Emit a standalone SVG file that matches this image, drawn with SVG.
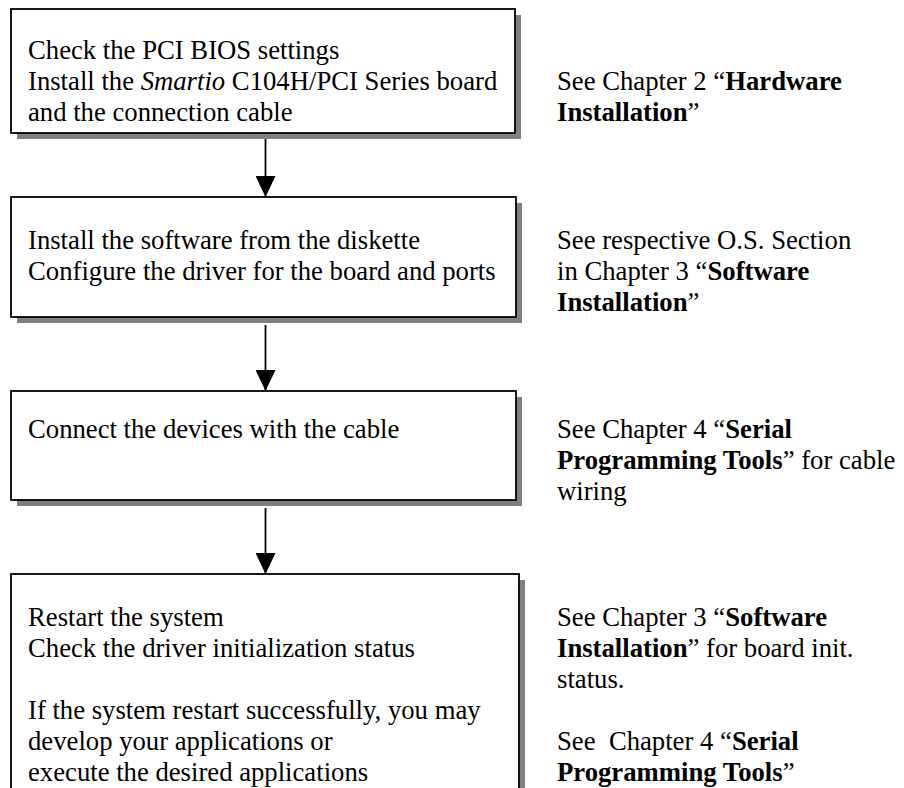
<svg xmlns="http://www.w3.org/2000/svg" width="904" height="788" viewBox="0 0 904 788">
<style>
.box{fill:#fff;stroke:#000;stroke-width:1.8}
.sh{fill:#808080}
.t{font-family:"Liberation Serif","Times New Roman",serif;font-size:26.7px;fill:#000;white-space:pre}
.b{font-weight:bold}
.i{font-style:italic}
.c{stroke:#000;stroke-width:1.8;fill:none}
</style>
<defs>
<marker id="ah" viewBox="0 0 21 20" refX="21" refY="10" markerWidth="21" markerHeight="20" markerUnits="userSpaceOnUse" orient="auto">
<path d="M0,0 L21,10 L0,20 z" fill="#000"/>
</marker>
</defs>
<rect width="904" height="788" fill="#fff"/>
<g id="connectors">
<line class="c" x1="265.5" y1="133" x2="265.5" y2="197" marker-end="url(#ah)"/>
<line class="c" x1="265.5" y1="325" x2="265.5" y2="391" marker-end="url(#ah)"/>
<line class="c" x1="265.5" y1="508" x2="265.5" y2="574" marker-end="url(#ah)"/>
</g>
<g id="node1">
<rect class="sh" x="17" y="15" width="504" height="124"/>
<rect class="box" x="11" y="9" width="504" height="124"/>
<text class="t" x="28" y="59">Check the PCI BIOS settings</text>
<text class="t" x="28" y="90">Install the <tspan class="i">Smartio</tspan> C104H/PCI Series board</text>
<text class="t" x="28" y="121">and the connection cable</text>
</g>
<g id="note1">
<text class="t" x="557" y="90">See Chapter 2 “<tspan class="b">Hardware</tspan></text>
<text class="t" x="557" y="121"><tspan class="b">Installation</tspan>”</text>
</g>
<g id="node2">
<rect class="sh" x="17" y="203" width="505" height="120"/>
<rect class="box" x="11" y="197" width="505" height="120"/>
<text class="t" x="28" y="249">Install the software from the diskette</text>
<text class="t" x="28" y="280">Configure the driver for the board and ports</text>
</g>
<g id="note2">
<text class="t" x="557" y="249">See respective O.S. Section</text>
<text class="t" x="557" y="280">in Chapter 3 “<tspan class="b">Software</tspan></text>
<text class="t" x="557" y="311"><tspan class="b">Installation</tspan>”</text>
</g>
<g id="node3">
<rect class="sh" x="17" y="397" width="505" height="109"/>
<rect class="box" x="11" y="391" width="505" height="109"/>
<text class="t" x="28" y="438">Connect the devices with the cable</text>
</g>
<g id="note3">
<text class="t" x="557" y="438">See Chapter 4 “<tspan class="b">Serial</tspan></text>
<text class="t" x="557" y="469"><tspan class="b">Programming Tools</tspan>” for cable</text>
<text class="t" x="557" y="500">wiring</text>
</g>
<g id="node4">
<rect class="sh" x="17" y="580" width="508" height="240"/>
<rect class="box" x="11" y="574" width="508" height="240"/>
<text class="t" x="28" y="626">Restart the system</text>
<text class="t" x="28" y="657">Check the driver initialization status</text>
<text class="t" x="28" y="719">If the system restart successfully, you may</text>
<text class="t" x="28" y="750">develop your applications or</text>
<text class="t" x="28" y="781">execute the desired applications</text>
</g>
<g id="note4">
<text class="t" x="557" y="626">See Chapter 3 “<tspan class="b">Software</tspan></text>
<text class="t" x="557" y="657"><tspan class="b">Installation</tspan>” for board init.</text>
<text class="t" x="557" y="688">status.</text>
<text class="t" x="557" y="750">See  Chapter 4 “<tspan class="b">Serial</tspan></text>
<text class="t" x="557" y="781"><tspan class="b">Programming Tools</tspan>”</text>
</g>
</svg>
